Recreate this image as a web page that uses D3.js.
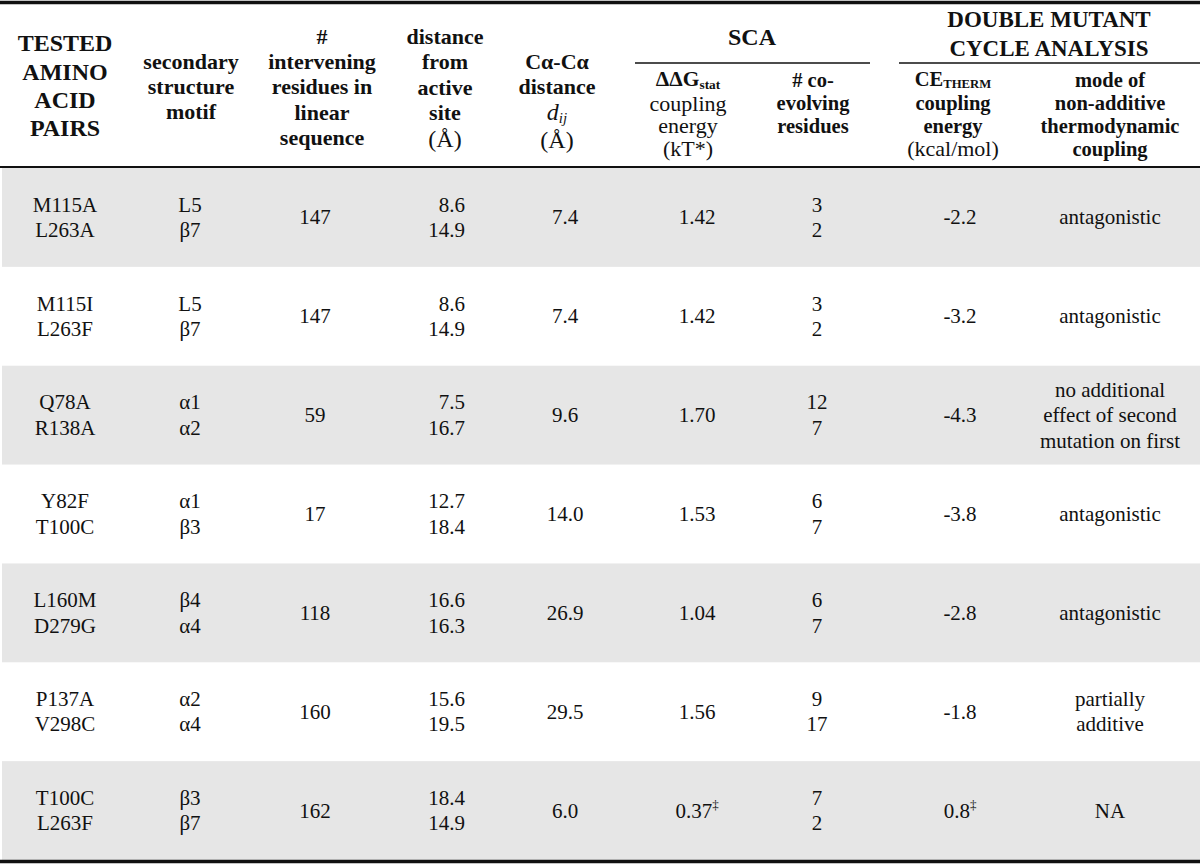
<!DOCTYPE html>
<html>
<head>
<meta charset="utf-8">
<script src="https://cdn.jsdelivr.net/npm/d3@7"></script>
<style>
  body { margin: 0; background: #fff; }
  svg { display: block; font-family: "Liberation Serif", "Times New Roman", serif; }
</style>
</head>
<body>
<svg id="table"></svg>
<script>
// table values
const pairs = [
  ["M115A", "L263A"], ["M115I", "L263F"], ["Q78A", "R138A"], ["Y82F", "T100C"],
  ["L160M", "D279G"], ["P137A", "V298C"], ["T100C", "L263F"],
];
const motifs = [
  ["L5", "β7"], ["L5", "β7"], ["α1", "α2"], ["α1", "β3"],
  ["β4", "α4"], ["α2", "α4"], ["β3", "β7"],
];
const intervening = [147, 147, 59, 17, 118, 160, 162];
const activeSiteDist = [
  [8.6, 14.9], [8.6, 14.9], [7.5, 16.7], [12.7, 18.4],
  [16.6, 16.3], [15.6, 19.5], [18.4, 14.9],
];
const caDist = [7.4, 7.4, 9.6, 14.0, 26.9, 29.5, 6.0];
const ddgStat = [1.42, 1.42, 1.70, 1.53, 1.04, 1.56, 0.37];
const coevolving = [[3, 2], [3, 2], [12, 7], [6, 7], [6, 7], [9, 17], [7, 2]];
const ceTherm = [-2.2, -3.2, -4.3, -3.8, -2.8, -1.8, 0.8];
const footnoteRows = [6];
const couplingMode = [
  ["antagonistic"], ["antagonistic"],
  ["no additional", "effect of second", "mutation on first"],
  ["antagonistic"], ["antagonistic"], ["partially", "additive"], ["NA"],
];

const width = 1200, height = 865;
const svg = d3.select("svg#table").attr("width", width).attr("height", height);

const locale = d3.formatLocale({ decimal: ".", thousands: ",", grouping: [3], currency: ["", ""], minus: "-" });
const f1 = locale.format(".1f");
const f2 = locale.format(".2f");

const cols = ["pair", "motif", "inter", "site", "ca", "ddg", "coev", "ce", "mode"];
const rows = d3.scaleBand().domain(d3.range(pairs.length)).range([168, 860]);
const headX = d3.scaleOrdinal().domain(cols).range([65, 191, 322, 445, 557, 688, 813, 953, 1110]);
const dataX = d3.scaleOrdinal().domain(cols).range([65, 190, 315, 465, 565, 697, 817, 960, 1110]);

// row shading
svg.append("g")
  .selectAll("rect")
  .data(rows.domain().filter((i) => i % 2 === 0))
  .join("rect")
  .attr("x", 2)
  .attr("y", (i) => rows(i))
  .attr("width", width - 2)
  .attr("height", rows.bandwidth())
  .attr("fill", "#e6e6e6");

// rules
const rules = [
  { x1: 0, x2: width, y: 2.5, w: 3.5 },
  { x1: 0, x2: width, y: 167, w: 2 },
  { x1: 0, x2: width, y: 861.5, w: 3.5 },
  { x1: 635, x2: 870, y: 63, w: 1.6 },
  { x1: 899, x2: width, y: 63, w: 1.6 },
];
svg.append("g")
  .selectAll("line")
  .data(rules)
  .join("line")
  .attr("x1", (d) => d.x1)
  .attr("x2", (d) => d.x2)
  .attr("y1", (d) => d.y)
  .attr("y2", (d) => d.y)
  .attr("stroke", "#111")
  .attr("stroke-width", (d) => d.w);

// header: each line is [text parts, centre y, size, bold]
const B = 22, R = 24, S = 20.5; // S: the tightly stacked sub-headers
const header = [
  { col: "pair", lines: [["TESTED", 43, 24, 1], ["AMINO", 72, 24, 1], ["ACID", 100, 24, 1], ["PAIRS", 128, 24, 1]] },
  { col: "motif", lines: [["secondary", 62, B, 1], ["structure", 87, B, 1], ["motif", 112, B, 1]] },
  { col: "inter", lines: [["#", 37, B, 1], ["intervening", 62, B, 1], ["residues in", 87, B, 1], ["linear", 113, B, 1], ["sequence", 138, B, 1]] },
  { col: "site", lines: [["distance", 37, B, 1], ["from", 62, B, 1], ["active", 88, B, 1], ["site", 113, B, 1], ["(Å)", 139, R, 0]] },
  { col: "ca", lines: [["Cα-Cα", 62, B, 1], ["distance", 87, B, 1], [[{ t: "d", i: 1 }, { t: "ij", i: 1, sub: 1 }], 112, R, 0], ["(Å)", 140, R, 0]] },
  { x: 752, lines: [["SCA", 37, 24, 1]] },
  { x: 1049, lines: [["DOUBLE MUTANT", 19, 23, 1], ["CYCLE ANALYSIS", 48, 23, 1]] },
  { col: "ddg", lines: [[[{ t: "ΔΔG" }, { t: "stat", sub: 1 }], 79, S + 1, 1], ["coupling", 103.5, S + 1.5, 0], ["energy", 126, S + 1.5, 0], ["(kT*)", 149, S + 1.5, 0]] },
  { col: "coev", lines: [["# co-", 80, S, 1], ["evolving", 103, S, 1], ["residues", 126, S, 1]] },
  { col: "ce", lines: [[[{ t: "CE" }, { t: "THERM", sub: 1 }], 79, S, 1], ["coupling", 103, S, 1], ["energy", 126, S, 1], ["(kcal/mol)", 149, S + 1.5, 0]] },
  { col: "mode", lines: [["mode of", 80, S, 1], ["non-additive", 103, S, 1], ["thermodynamic", 126, S, 1], ["coupling", 149, S, 1]] },
];

// one <text> per header cell, tspans per line
const headG = svg.append("g").attr("fill", "#111").attr("text-anchor", "middle");
header.forEach((h) => {
  const x = h.x != null ? h.x : headX(h.col);
  const text = headG.append("text");
  h.lines.forEach(([parts, cy, size, bold]) => {
    (typeof parts === "string" ? [{ t: parts }] : parts).forEach((p, k) => {
      const ts = text.append("tspan")
        .attr("font-size", p.sub ? size * 0.62 : size)
        .attr("font-weight", bold ? "bold" : "normal")
        .text(p.t);
      if (k === 0) ts.attr("x", x).attr("y", cy + size * 0.33);
      if (p.i) ts.attr("font-style", "italic");
      if (p.sub) ts.attr("dy", size * 0.12);
    });
  });
});

// body cells
const bodyG = svg.append("g").attr("fill", "#111").attr("font-size", 21);
const lineGap = 25.5;

function cell(x, i, lines, anchor = "middle", note = false) {
  const cy = rows(i) + rows.bandwidth() / 2;
  const y0 = cy - ((lines.length - 1) * lineGap) / 2;
  const text = bodyG.append("text").attr("text-anchor", anchor);
  lines.forEach((t, k) => {
    text.append("tspan")
      .attr("x", x)
      .attr("y", y0 + k * lineGap + 7)
      .text(t);
  });
  if (note) text.append("tspan").attr("font-size", 13).attr("dy", -9).text("‡");
}

rows.domain().forEach((i) => {
  const note = footnoteRows.includes(i);
  cell(dataX("pair"), i, pairs[i]);
  cell(dataX("motif"), i, motifs[i]);
  cell(dataX("inter"), i, [intervening[i]]);
  cell(dataX("site"), i, activeSiteDist[i].map(f1), "end");
  cell(dataX("ca"), i, [f1(caDist[i])]);
  cell(dataX("ddg"), i, [f2(ddgStat[i])], "middle", note);
  cell(dataX("coev"), i, coevolving[i]);
  cell(dataX("ce"), i, [f1(ceTherm[i])], "middle", note);
  cell(dataX("mode"), i, couplingMode[i]);
});
</script>
</body>
</html>
